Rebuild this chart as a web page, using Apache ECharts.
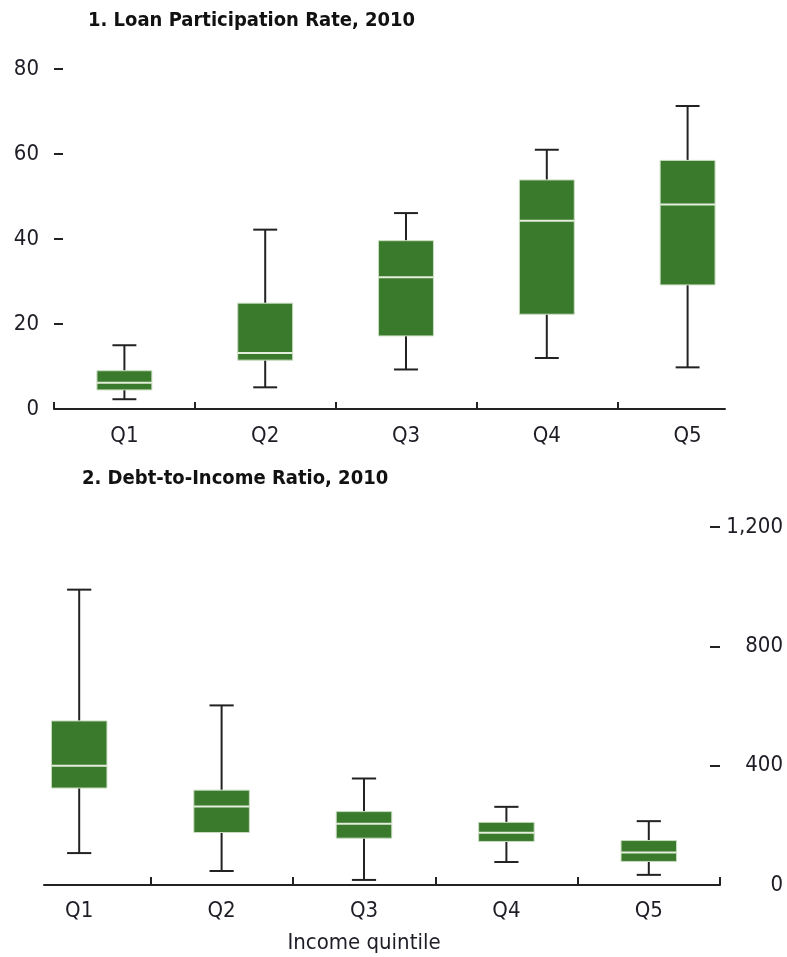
<!DOCTYPE html>
<html>
<head>
<meta charset="utf-8">
<script src="https://cdn.jsdelivr.net/npm/echarts@6/dist/echarts.min.js"></script>
<style>
  html, body { margin: 0; padding: 0; background: #fff; }
  #main { width: 787px; height: 957px; }
</style>
</head>
<body>
<div id="main"></div>
<script>
// categories
var quintiles = ['Q1', 'Q2', 'Q3', 'Q4', 'Q5'];

// panel 1: loan participation rate, [min, q1, median, q3, max] per quintile
var loanBoxes = [
  [2.3, 4.5, 6.2, 9.0, 15.0],
  [5.1, 11.5, 13.2, 24.9, 42.2],
  [9.3, 17.2, 31.0, 39.6, 46.1],
  [12.0, 22.3, 44.3, 53.9, 61.0],
  [9.8, 29.2, 48.1, 58.5, 71.3]
];

// panel 2: debt-to-income ratio, [min, q1, median, q3, max] per quintile
var debtBoxes = [
  [107, 325, 400, 550, 990],
  [47, 176, 263, 318, 602],
  [17, 157, 205, 246, 357],
  [77, 146, 175, 210, 262],
  [34, 79, 109, 149, 214]
];

// y tick settings: min, max, step
var loanTicks = [0, 80, 20];
var debtTicks = [0, 1200, 400];

var font = "'Liberation Sans Narrow', 'DejaVu Sans Condensed', 'Roboto', sans-serif";
var ink = '#1d1d26';
var green = '#3a7a2c';

function toRows(boxes) {
  return boxes.map(function (b, i) { return [i].concat(b); });
}

// box: whiskers in black, green box, pale median
function renderBox(params, api) {
  var x = api.value(0);
  var lo = api.coord([x, api.value(1)]);
  var q1 = api.coord([x, api.value(2)]);
  var med = api.coord([x, api.value(3)]);
  var q3 = api.coord([x, api.value(4)]);
  var hi = api.coord([x, api.value(5)]);
  var band = api.size([1, 0])[0];
  var bw = band * 0.39;
  var cw = band * 0.17;
  var cx = lo[0];
  var wStyle = { stroke: '#222', lineWidth: 2 };
  return {
    type: 'group',
    children: [
      { type: 'line', shape: { x1: cx, y1: hi[1], x2: cx, y2: q3[1] }, style: wStyle },
      { type: 'line', shape: { x1: cx, y1: q1[1], x2: cx, y2: lo[1] }, style: wStyle },
      { type: 'line', shape: { x1: cx - cw / 2, y1: hi[1], x2: cx + cw / 2, y2: hi[1] }, style: wStyle },
      { type: 'line', shape: { x1: cx - cw / 2, y1: lo[1], x2: cx + cw / 2, y2: lo[1] }, style: wStyle },
      { type: 'rect', shape: { x: cx - bw / 2, y: q3[1], width: bw, height: q1[1] - q3[1] },
        style: { fill: green, stroke: '#c9dcc0', lineWidth: 1 } },
      { type: 'line', shape: { x1: cx - bw / 2, y1: med[1], x2: cx + bw / 2, y2: med[1] },
        style: { stroke: '#e4eedc', lineWidth: 2 } }
    ]
  };
}

var lineStyle = { color: '#222', width: 2 };

var chart = echarts.init(document.getElementById('main'));
chart.setOption({
  animation: false,
  backgroundColor: '#fff',
  textStyle: { fontFamily: font, color: ink },
  title: [
    { text: '1. Loan Participation Rate, 2010', left: 83, top: 6,
      textStyle: { fontFamily: font, fontSize: 20, fontWeight: 'bold', color: '#111' } },
    { text: '2. Debt-to-Income Ratio, 2010', left: 77, top: 464,
      textStyle: { fontFamily: font, fontSize: 20, fontWeight: 'bold', color: '#111' } }
  ],
  grid: [
    { left: 54, right: 29, top: 69, bottom: 548, outerBoundsMode: 'none' },
    { left: 54, right: 62, top: 69, bottom: 548, outerBoundsMode: 'none' },
    { left: 8, right: 67, top: 527, bottom: 72, outerBoundsMode: 'none' },
    { left: 44, right: 67, top: 527, bottom: 72, outerBoundsMode: 'none' }
  ],
  xAxis: [
    { type: 'category', gridIndex: 0, data: quintiles,
      axisLine: { show: false }, axisTick: { show: false },
      axisLabel: { margin: 16, fontSize: 22, color: ink, fontFamily: font } },
    { type: 'value', gridIndex: 1, min: 0, max: 4.76,
      axisLine: { lineStyle: lineStyle },
      axisTick: { inside: true, length: 7, lineStyle: lineStyle, customValues: [0, 1, 2, 3, 4] },
      axisLabel: { show: false }, splitLine: { show: false } },
    { type: 'category', gridIndex: 2, data: quintiles,
      axisLine: { show: false }, axisTick: { show: false },
      axisLabel: { margin: 15, fontSize: 22, color: ink, fontFamily: font },
      name: 'Income quintile', nameLocation: 'middle', nameGap: 47,
      nameTextStyle: { fontSize: 22, color: ink, fontFamily: font } },
    { type: 'value', gridIndex: 3, min: 0.25, max: 5,
      axisLine: { lineStyle: lineStyle },
      axisTick: { inside: true, length: 8, lineStyle: lineStyle, customValues: [1, 2, 3, 4, 5] },
      axisLabel: { show: false }, splitLine: { show: false } }
  ],
  yAxis: [
    { type: 'value', gridIndex: 0, min: loanTicks[0], max: loanTicks[1], interval: loanTicks[2],
      axisLine: { show: false },
      axisTick: { show: true, inside: true, length: 9, lineStyle: lineStyle },
      axisLabel: { margin: 15, fontSize: 22, color: ink, fontFamily: font },
      splitLine: { show: false } },
    { type: 'value', gridIndex: 1, show: false, min: 0, max: 1 },
    { type: 'value', gridIndex: 2, position: 'right',
      min: debtTicks[0], max: debtTicks[1], interval: debtTicks[2],
      axisLine: { show: false },
      axisTick: { show: true, inside: true, length: 10, lineStyle: lineStyle },
      axisLabel: { margin: 63, align: 'right', fontSize: 22, color: ink, fontFamily: font,
        formatter: function (v) { return v.toLocaleString('en-US'); } },
      splitLine: { show: false } },
    { type: 'value', gridIndex: 3, show: false, min: 0, max: 1 }
  ],
  series: [
    { type: 'custom', xAxisIndex: 0, yAxisIndex: 0, renderItem: renderBox,
      encode: { x: 0, y: [1, 2, 3, 4, 5] }, data: toRows(loanBoxes) },
    { type: 'custom', xAxisIndex: 2, yAxisIndex: 2, renderItem: renderBox,
      encode: { x: 0, y: [1, 2, 3, 4, 5] }, data: toRows(debtBoxes) }
  ]
});
</script>
</body>
</html>
